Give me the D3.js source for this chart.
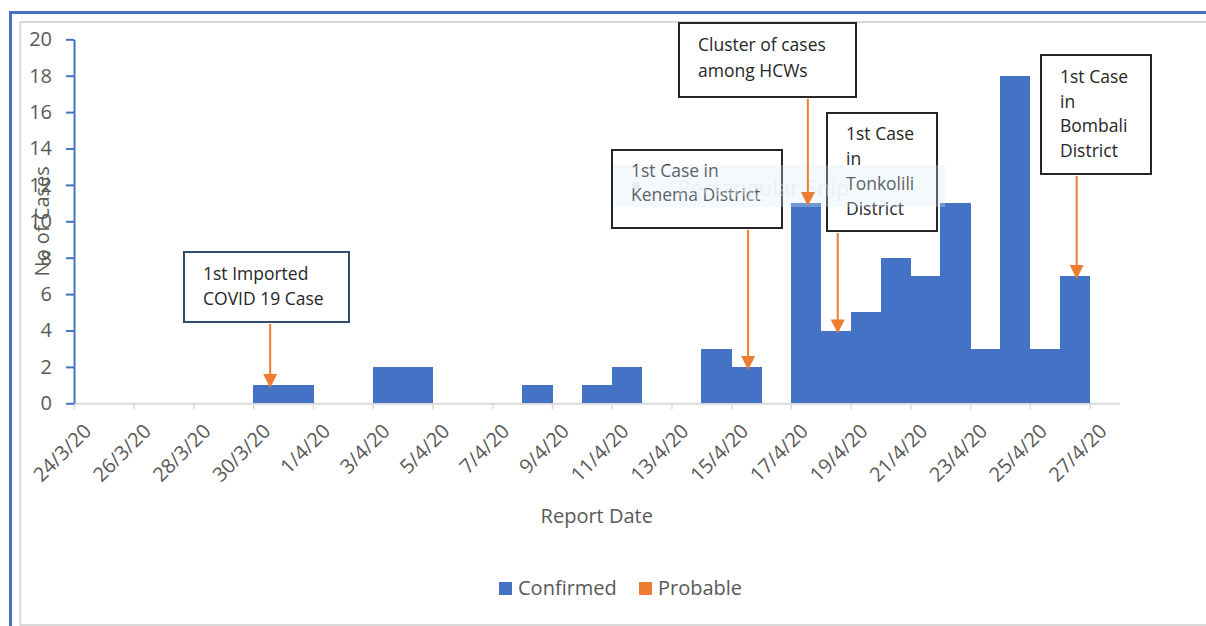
<!DOCTYPE html>
<html lang="en">
<head>
<meta charset="UTF-8">
<script src="https://cdn.jsdelivr.net/npm/d3@7"></script>
<title>Epicurve - Report Date</title>
<style>
  body { margin: 0; background: #fff; }
  text { font-family: "Open Sans", "Noto Sans", sans-serif; }
</style>
</head>
<body>
<div id="chart"></div>
<script>
// report dates with cases (d/m/yy) and daily counts
var reportDates = ["30/3/20", "31/3/20", "3/4/20", "4/4/20", "8/4/20", "10/4/20", "11/4/20",
                   "14/4/20", "15/4/20", "17/4/20", "18/4/20", "19/4/20", "20/4/20", "21/4/20",
                   "22/4/20", "23/4/20", "24/4/20", "25/4/20", "26/4/20"];
var confirmed = [1, 1, 2, 2, 1, 1, 2, 3, 2, 11, 4, 5, 8, 7, 11, 3, 18, 3, 7];
var probable  = [0, 0, 0, 0, 0, 0, 0, 0, 0, 0, 0, 0, 0, 0, 0, 0, 0, 0, 0];

var xTickLabels = ["24/3/20", "26/3/20", "28/3/20", "30/3/20", "1/4/20", "3/4/20", "5/4/20",
                   "7/4/20", "9/4/20", "11/4/20", "13/4/20", "15/4/20", "17/4/20", "19/4/20",
                   "21/4/20", "23/4/20", "25/4/20", "27/4/20"];
var yTicks = [0, 2, 4, 6, 8, 10, 12, 14, 16, 18, 20];

var seriesNames = ["Confirmed", "Probable"];
var seriesColors = ["#4472C4", "#ED7D31"];

// callouts: date pointed at and their text
var calloutDates = ["30/3/20", "15/4/20", "17/4/20", "18/4/20", "26/4/20"];
var calloutText = [
  ["1st Imported", "COVID 19 Case"],
  ["1st Case in", "Kenema District"],
  ["Cluster of cases", "among HCWs"],
  ["1st Case", "in", "Tonkolili", "District"],
  ["1st Case", "in", "Bombali", "District"]
];

var parseDate = d3.timeParse("%d/%m/%y");
var W = 1206, H = 626;
var plot = {left: 74, right: 1119.5, top: 39.3, bottom: 403.3};

var svg = d3.select("#chart").append("svg")
  .attr("width", W).attr("height", H);

// frame (screenshot border + chart area border)
svg.append("rect").attr("x", 20.3).attr("y", 22).attr("width", W).attr("height", 603)
  .attr("fill", "#fff").attr("stroke", "#d9d9d9").attr("stroke-width", 2);
svg.append("path").attr("d", "M10.5," + H + "V12.5H" + W)
  .attr("fill", "none").attr("stroke", "#4472C4").attr("stroke-width", 3);

var start = parseDate(xTickLabels[0]);
var x = d3.scaleTime()
  .domain([start, d3.timeDay.offset(start, 35)])
  .range([plot.left, plot.right]);
var y = d3.scaleLinear().domain([0, 20]).range([plot.bottom, plot.top]);

// x axis
var xAxis = svg.append("g")
  .attr("transform", "translate(0," + plot.bottom + ")")
  .call(d3.axisBottom(x)
    .tickValues(xTickLabels.map(parseDate))
    .tickFormat(function (d, i) { return xTickLabels[i]; })
    .tickSize(6).tickSizeOuter(0));
xAxis.select(".domain").attr("stroke", "#d9d9d9").attr("stroke-width", 2);
xAxis.selectAll(".tick line").attr("stroke", "#d9d9d9").attr("stroke-width", 1.5);
xAxis.selectAll(".tick text")
  .attr("x", 0).attr("y", 0).attr("dy", 0)
  .attr("transform", "translate(18,29) rotate(-45)")
  .attr("text-anchor", "end")
  .attr("fill", "#595959")
  .style("font-size", "20px");

// y axis
var yAxis = svg.append("g")
  .attr("transform", "translate(" + plot.left + ",0)")
  .call(d3.axisLeft(y).tickValues(yTicks).tickSize(8).tickPadding(14).tickSizeOuter(0));
yAxis.select(".domain").attr("stroke", "#4472C4").attr("stroke-width", 2);
yAxis.selectAll(".tick line").attr("stroke", "#4472C4").attr("stroke-width", 2);
yAxis.selectAll(".tick text")
  .attr("fill", "#595959")
  .style("font-size", "20px");

// axis titles
svg.append("text")
  .attr("transform", "translate(49," + ((plot.top + plot.bottom) / 2) + ") rotate(-90)")
  .attr("text-anchor", "middle")
  .attr("fill", "#595959").style("font-size", "20px")
  .text("No of Cases");
svg.append("text")
  .attr("x", (plot.left + plot.right) / 2).attr("y", 523)
  .attr("text-anchor", "middle")
  .attr("fill", "#595959").style("font-size", "20px")
  .text("Report Date");

// stacked columns, one day wide
var rows = reportDates.map(function (d, i) {
  return {date: parseDate(d), Confirmed: confirmed[i], Probable: probable[i]};
});
var stack = d3.stack().keys(seriesNames)(rows);
var color = d3.scaleOrdinal().domain(seriesNames).range(seriesColors);

svg.append("g").attr("shape-rendering", "crispEdges").selectAll("g")
  .data(stack)
  .join("g")
    .attr("fill", function (s) { return color(s.key); })
  .selectAll("rect")
  .data(function (s) { return s.filter(function (d) { return d[1] > d[0]; }); })
  .join("rect")
    .attr("x", function (d) { return x(d.data.date); })
    .attr("width", function (d) { return x(d3.timeDay.offset(d.data.date, 1)) - x(d.data.date) + 0.6; })
    .attr("y", function (d) { return y(d[1]); })
    .attr("height", function (d) { return y(d[0]) - y(d[1]); });

// legend
var legend = svg.append("g").attr("transform", "translate(499,582)");
var legendX = [0, 140];
seriesNames.forEach(function (name, i) {
  var g = legend.append("g").attr("transform", "translate(" + legendX[i] + ",0)");
  g.append("rect").attr("width", 13).attr("height", 13).attr("fill", seriesColors[i]);
  g.append("text").attr("x", 19).attr("y", 13)
    .attr("fill", "#595959").style("font-size", "20px").text(name);
});

// callout boxes (layout in px)
var boxes = [
  {x0: 184, y0: 252, x1: 349, y1: 322, stroke: "#2f4b6e", tx: 203, ty: 280, lh: 25},
  {x0: 612, y0: 150, x1: 782, y1: 228, stroke: "#262626", tx: 631, ty: 177, lh: 24},
  {x0: 679, y0: 23, x1: 856, y1: 97, stroke: "#262626", tx: 698, ty: 51, lh: 26},
  {x0: 827, y0: 113, x1: 937, y1: 231, stroke: "#262626", tx: 846, ty: 140, lh: 25},
  {x0: 1041, y0: 55, x1: 1151, y1: 174, stroke: "#262626", tx: 1060, ty: 83, lh: 24.7}
];

var boxG = svg.append("g");
boxes.forEach(function (b) {
  boxG.append("rect")
    .attr("x", b.x0).attr("y", b.y0)
    .attr("width", b.x1 - b.x0).attr("height", b.y1 - b.y0)
    .attr("fill", "#fff").attr("stroke", b.stroke).attr("stroke-width", 2);
});

// faint snipping-tool tooltip left in the screenshot
var snip = svg.append("g");
snip.append("rect").attr("x", 613).attr("y", 165).attr("width", 332).attr("height", 42)
  .attr("fill", "#dceaf8").attr("opacity", 0.3);
snip.append("circle").attr("cx", 636).attr("cy", 186).attr("r", 4)
  .attr("fill", "#d5dae1").attr("opacity", 0.4);
snip.append("text").attr("x", 677).attr("y", 196)
  .attr("fill", "#e3e7ec").attr("opacity", 0.45).style("font-size", "22px")
  .text("Rectangular Snip");

boxes.forEach(function (b, i) {
  var t = boxG.append("text").attr("fill", "#262626").style("font-size", "17.5px");
  calloutText[i].forEach(function (line, j) {
    t.append("tspan").attr("x", b.tx).attr("y", b.ty + j * b.lh).text(line);
  });
});

// orange arrows to the columns
var arrowG = svg.append("g");
calloutDates.forEach(function (ds, i) {
  var d = parseDate(ds);
  var k = reportDates.indexOf(ds);
  var ax = x(d) + (x(d3.timeDay.offset(d, 1)) - x(d)) / 2 + 2;
  var tip = y(confirmed[k] + probable[k]) + 3;
  arrowG.append("line")
    .attr("x1", ax).attr("x2", ax)
    .attr("y1", boxes[i].y1 + 2).attr("y2", tip - 10)
    .attr("stroke", "#ED7D31").attr("stroke-width", 2);
  arrowG.append("path")
    .attr("d", "M" + (ax - 7) + "," + (tip - 14) + "L" + (ax + 7) + "," + (tip - 14) + "L" + ax + "," + tip + "Z")
    .attr("fill", "#ED7D31");
});
</script>
</body>
</html>
